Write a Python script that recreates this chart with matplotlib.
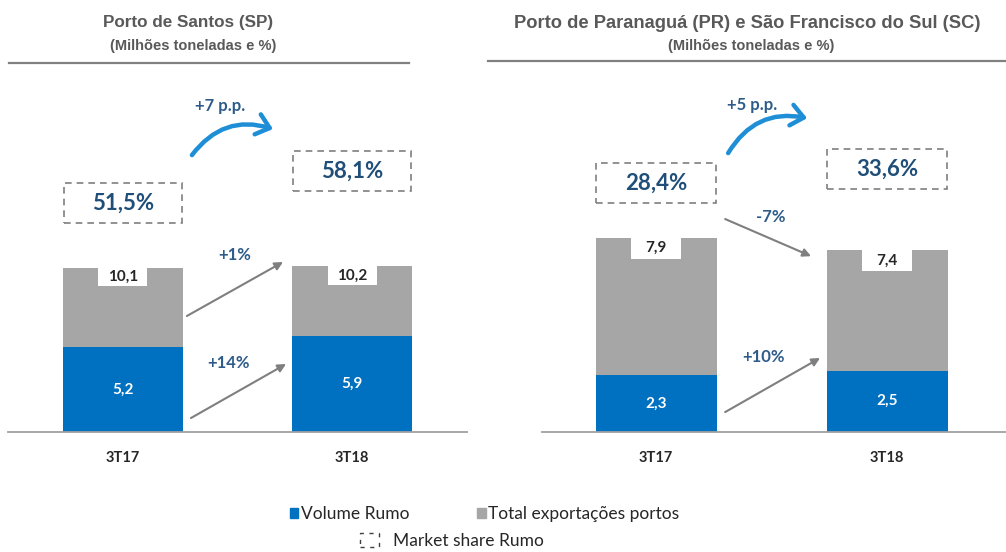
import matplotlib.pyplot as plt
from matplotlib.patches import Rectangle, FancyArrowPatch, Patch
from matplotlib.lines import Line2D

W, H = 1006, 552

categories = ['3T17', '3T18']

santos_rumo = [5.2, 5.9]
santos_total = [10.1, 10.2]
santos_share = ['51,5%', '58,1%']
santos_var = ['+1%', '+14%', '+7 p.p.']   # total, rumo, market share

parana_rumo = [2.3, 2.5]
parana_total = [7.9, 7.4]
parana_share = ['28,4%', '33,6%']
parana_var = ['-7%', '+10%', '+5 p.p.']

BLUE = '#0070C0'
GRAY = '#A6A6A6'
DARK = '#262626'
NAVY = '#1F4E79'
TXTBLUE = '#2E5C8A'
ARROW_BLUE = '#1E8FD6'
TITLE = '#595959'

plt.rcParams['font.family'] = ['Lato', 'DejaVu Sans']

# layout in data units of each panel
santos_layout = dict(
    ylim=22.25, xlim=(-0.502, 1.502), width=0.52,
    box_y=[14.07, 16.04], box_h=2.46, box_w=0.515, label_box=(0.214, 1.15),
    total_arrow=((0.279, 7.13), (0.699, 10.45)), total_txt=(0.489, 10.88),
    rumo_arrow=((0.297, 0.86), (0.712, 4.18)), rumo_txt=(0.459, 4.24),
    share_arrow=((0.301, 17.02), (0.655, 18.62)), share_txt=(0.424, 20.04),
)
parana_layout = dict(
    ylim=14.72, xlim=(-0.494, 1.515), width=0.524,
    box_y=[10.12, 10.69], box_h=1.63, box_w=0.52, label_box=(0.216, 0.85),
    total_arrow=((0.299, 8.66), (0.671, 7.15)), total_txt=(0.498, 8.74),
    rumo_arrow=((0.299, 0.81), (0.710, 3.01)), rumo_txt=(0.463, 3.05),
    share_arrow=((0.312, 11.34), (0.654, 12.76)), share_txt=(0.416, 13.29),
)


def fmt(v):
    return f'{v:.1f}'.replace('.', ',')


def draw_panel(ax, rumo, total, shares, var, lay):
    x = list(range(len(categories)))
    rest = [t - r for t, r in zip(total, rumo)]
    w = lay['width']
    ax.bar(x, rumo, width=w, color=BLUE, zorder=2)
    ax.bar(x, rest, bottom=rumo, width=w, color=GRAY, zorder=2)

    bw, bh = lay['label_box']
    for i in x:
        ax.text(i, rumo[i] / 2, fmt(rumo[i]), ha='center', va='center',
                color='white', fontsize=11, fontweight='bold', zorder=4)
        ax.add_patch(Rectangle((i - bw / 2, total[i] - bh), bw, bh,
                               facecolor='white', edgecolor='none', zorder=3))
        ax.text(i, total[i] - bh / 2, fmt(total[i]), ha='center', va='center',
                color=DARK, fontsize=11, fontweight='bold', zorder=4)
        # market share box
        bx, by = lay['box_w'], lay['box_h']
        ax.add_patch(Rectangle((i - bx / 2, lay['box_y'][i] - by / 2), bx, by,
                               fill=False, edgecolor='#7F7F7F', lw=1.2,
                               linestyle=(0, (4, 3)), zorder=3, clip_on=False))
        ax.text(i, lay['box_y'][i], shares[i], ha='center', va='center',
                color=NAVY, fontsize=16, fontweight='bold', zorder=4)

    for key, txt in (('total', var[0]), ('rumo', var[1])):
        start, end = lay[key + '_arrow']
        ax.annotate('', xy=end, xytext=start,
                    arrowprops=dict(arrowstyle='-|>', color='#7F7F7F', lw=1.5,
                                    mutation_scale=12, shrinkA=0, shrinkB=0))
        tx, ty = lay[key + '_txt']
        ax.text(tx, ty, txt, ha='center', va='center', color=TXTBLUE,
                fontsize=12, fontweight='bold')

    start, end = lay['share_arrow']
    ax.add_patch(FancyArrowPatch(start, end, connectionstyle='arc3,rad=-0.35',
                                 arrowstyle='->,head_length=0.6,head_width=0.5',
                                 mutation_scale=15, color=ARROW_BLUE, lw=3.2,
                                 shrinkA=0, shrinkB=0, clip_on=False))
    tx, ty = lay['share_txt']
    ax.text(tx, ty, var[2], ha='center', va='center', color=TXTBLUE,
            fontsize=12, fontweight='bold')

    ax.set_xlim(*lay['xlim'])
    ax.set_ylim(0, lay['ylim'])
    ax.set_xticks(x, categories)
    ax.tick_params(axis='x', length=0, pad=14, labelsize=10.5, labelcolor=DARK)
    for lbl in ax.get_xticklabels():
        lbl.set_fontweight('bold')
    ax.set_yticks([])
    for s in ('top', 'left', 'right'):
        ax.spines[s].set_visible(False)
    ax.spines['bottom'].set_color('#A0A0A0')
    ax.spines['bottom'].set_linewidth(1.3)
    ax.patch.set_alpha(0)


fig = plt.figure(figsize=(W / 100, H / 100), dpi=100)


def fx(px):
    return px / W


def fy(py):
    return 1 - py / H


ax1 = fig.add_axes([fx(8), fy(432), fx(459), 362 / H])
ax2 = fig.add_axes([fx(542), fy(432), fx(464), 362 / H])
draw_panel(ax1, santos_rumo, santos_total, santos_share, santos_var, santos_layout)
draw_panel(ax2, parana_rumo, parana_total, parana_share, parana_var, parana_layout)

# titles
tfont = ['Liberation Sans', 'DejaVu Sans']
fig.text(fx(188), fy(23), 'Porto de Santos (SP)', ha='center', va='center',
         fontsize=12.3, fontweight='bold', color=TITLE, family=tfont)
fig.text(fx(193), fy(46), '(Milhões toneladas e %)', ha='center', va='center',
         fontsize=10.5, fontweight='bold', color=TITLE, family=tfont)
fig.text(fx(747), fy(23), 'Porto de Paranaguá (PR) e São Francisco do Sul (SC)',
         ha='center', va='center', fontsize=13.2, fontweight='bold', color=TITLE,
         family=tfont)
fig.text(fx(751), fy(46), '(Milhões toneladas e %)', ha='center', va='center',
         fontsize=10.5, fontweight='bold', color=TITLE, family=tfont)
fig.add_artist(Line2D([fx(9), fx(409)], [fy(63), fy(63)], color='#808080', lw=1.6))
fig.add_artist(Line2D([fx(488), fx(1006)], [fy(61), fy(61)], color='#808080', lw=1.6))

# legend
leg1 = fig.legend(handles=[Patch(color=BLUE, label='Volume Rumo'),
                           Patch(color=GRAY, label='Total exportações portos')],
                  loc='center left', bbox_to_anchor=(fx(281), fy(514)), ncol=2,
                  frameon=False, borderpad=0, handlelength=0.5, handleheight=0.5,
                  handletextpad=0.15, columnspacing=3.9, fontsize=12.5)
for t in leg1.get_texts():
    t.set_color(DARK)
leg2 = fig.legend(handles=[Patch(facecolor='white', edgecolor='#404040', lw=1,
                                 linestyle=(0, (3, 4)), label='Market share Rumo')],
                  loc='center left', bbox_to_anchor=(fx(351), fy(541)),
                  frameon=False, borderpad=0, handlelength=1.1, handleheight=0.8,
                  handletextpad=0.8, fontsize=12.5)
for t in leg2.get_texts():
    t.set_color(DARK)

fig.savefig('out.png', dpi=100)
